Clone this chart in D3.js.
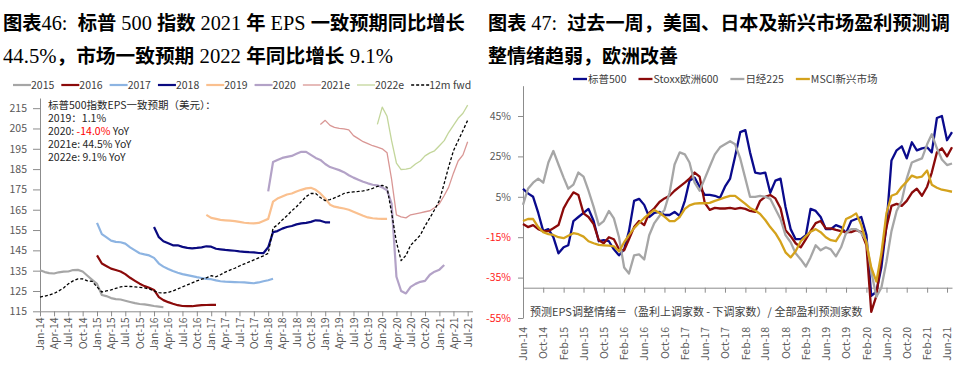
<!DOCTYPE html>
<html>
<head>
<meta charset="utf-8">
<script src="https://cdn.jsdelivr.net/npm/d3@7"></script>
<style>
  body { margin: 0; background: #fff; }
  svg text { font-family: "Noto Sans CJK SC", "Noto Sans", sans-serif; white-space: pre; }
</style>
</head>
<body>
<svg id="chart" width="967" height="376"></svg>
<script>
// ---------- left chart: S&P 500 EPS consensus (USD), monthly ----------
const leftNames = ["2015", "2016", "2017", "2018", "2019", "2020", "2021e", "2022e", "12m fwd"];
const leftStarts = ["2014-01", "2015-01", "2015-01", "2016-01", "2016-12", "2018-01", "2018-12", "2019-12", "2014-01"];
const eps2015 = [135.2,134.3,133.8,133.6,134.2,134.5,134.6,135.3,135.4,134.6,132.5,130.5,
  128.5,123,122.5,121.5,121,120.8,120.2,119.6,119,118.6,118.4,118,117.6,117.3,117.0];
const eps2016 = [142.5,138.5,137.3,136,135.3,134.6,133.3,131.5,130,128.6,127.4,126.6,
  125.5,122,120.5,119.5,118.7,118,117.6,117.5,117.5,117.8,118,118.1,118.2,118.2];
const eps2017 = [158.5,153,151.5,149.8,149.2,149,148.3,146.5,145,143.6,143,142.5,
  141.3,138.5,137,135.8,134.8,134,133.3,132.8,132.3,131.8,131.4,131,
  130.8,130.2,129.8,129.6,129.5,129.4,129.3,129.2,129,128.8,129.2,129.8,130.3,131];
const eps2018 = [156.5,151.5,149.5,148.5,147.5,147.5,146.7,146.2,146,146.2,146.5,147,
  146.8,145.8,145.5,145.2,145,144.8,144.5,144.3,144.1,144,143.7,143.6,
  146.5,154,154.5,155.7,156.5,157,157.8,158.3,158.5,159,159.8,159.6,158.8,158.8];
const eps2019 = [162.5,
  161,160.5,160,159.8,159.6,159.4,159,158.6,158.4,158.3,158.5,159.5,
  160.5,169,170.5,171.5,172.5,173,174,174.8,175.5,175.8,174.8,173,
  170.5,167.5,166.5,166,165.6,165,164,163,162,161.2,160.8,160.6,160.5,160.5];
const eps2020 = [174,188.5,189.5,190.5,191,191.5,192.5,193.5,193.5,192,190.5,189.5,
  187.5,186,185.3,184.5,183.5,182,180.8,179.8,178.8,178,177.3,177,
  176,174.5,168,132,125,123.8,127,128.5,129.5,130,133,134.5,135.5,137.8];
const eps2021e = [207,
  209,206.5,205.5,205,204.8,204.3,201.5,200,198.5,197.5,196.5,195.8,
  195,193,180,162.5,161.5,161,162.5,163,163.5,164,164.5,166,
  168,172,176,183,189,192,198.5];
const eps2022e = [207,215.5,211,199,188,184.8,185,185.5,187.5,189,191.5,193,194,
  196.5,199,203,206.5,210,212.5,216.5];
const eps12mFwd = [122,122.5,123,123.8,125,126.5,128.5,130,131,131,130,129.7,
  127,124.5,125,125.5,126.3,127,127.3,127.2,127,126.8,126.5,126,
  125,124.2,124,124.3,125,126,127,128,129,130,130.8,131.5,
  132.5,132,133,134.3,135.3,136.2,137.3,138.3,139.3,140.3,141.3,142.3,
  143.5,156,157.5,160,162,164.5,166.5,169,171.5,173,173,171,
  169.5,170,170.8,171.8,173,173.5,173.8,174,174.3,174.8,175.5,176.5,
  177,176,163.5,149,140,142.5,147.5,150,152.5,157,161,165,
  169.5,178,186,194,199,204,209];
const leftValues = [eps2015, eps2016, eps2017, eps2018, eps2019, eps2020, eps2021e, eps2022e, eps12mFwd];
const leftColors = ["#a6a6a6", "#8b0a0a", "#8db4e2", "#0a0a80", "#fac08f", "#b3a2c7", "#d99694", "#c3d69b", "#000"];
const leftWidths = [2.2, 2.2, 2.2, 2.2, 2.2, 2.2, 1.3, 1.3, 1.3];
const leftYTicks = [115, 125, 135, 145, 155, 165, 175, 185, 195, 205, 215];
// each note line is a list of [text, highlighted?] pieces
const noteLines = [
    [["标普500指数EPS一致预期（美元）：", false]],
    [["2019：1.1%", false]],
    [["2020: ", false], ["-14.0%", true], [" YoY", false]],
    [["2021e: 44.5% YoY", false]],
    [["2022e: 9.1% YoY", false]]
];

// ---------- right chart: EPS revision sentiment, monthly from Jun-14 ----------
const rightNames = ["标普500", "Stoxx欧洲600", "日经225", "MSCI新兴市场"];
const rightStart = "2014-06";
const spx = [9,6.7,5,-3,-12,-11,-15,-23,-20,-19, -7,-5,-3,-1,-7,-17,-16.5,-17,-21,-24,
  -21,-12,3,4,1,-5,-3,-2.5,-4,-4, -2.5,-4.5,3,13,14.5,10,6,6,5.5,4.5,
  10,14,25,37,38,27,17,16.5,17,7, 13,14,0,-11,-16,-16,-14,-1,-2,-5,
  -11,-11,-9,-10,-13,-7,-6,-5,-14,-44, -42,-30,-9,23,28,30,24,32,28,29,
  29.5,27,44,45,33,37];
const stoxx = [-8.5,-10,-9,-11,-12,-12,-10.6,-9,-0.7,3.4, 7.2,5.9,-3.2,-5,-8.5,-16.5,-18,-15,-16,-21,
  -21.5,-16,-10,-7,-9,-3,-0.7,2.4,4.2,5.5, 8,10,12,14,17,15,2,-1.5,-0.5,-0.8,
  -0.8,-0.5,-1,-0.5,-1,-2,-2.5,3,5,5.9, 4.2,-0.7,-11.5,-14.5,-18,-20,-16,-12,-8,-7,
  -10.6,-10.6,-11.4,-12,-12.5,-12.5,-11.5,-12.5,-19,-52, -44,-25,-10,0.5,1.5,0.5,3,7,9,5.5,
  10,17,27,29,25,29.5];
const nikkei = [1,9,12,14,12,22,27.7,21,14.5,9, 11,17,15,8,0,-9,-7,-2,-5.7,-15,
  -30,-33,-24,-23.5,-26,-14,-8,-4.5,-1.5,7, 21,27,26,22,12,8,14,20,26,29.5,
  31,32.5,31,24,14,5,5,5.5,5,4, -1,-6,-14,-17.5,-23,-26,-29.5,-25,-19,-21.5,
  -20,-21,-24.5,-20,-13,-11,-11,-13,-17,-32, -44.5,-40,-27,-12,-2,3,14,22,23,24,
  31,36,29,23.5,20.7,21.5];
const msciEm = [-7,-6,-6,-10,-12.5,-13.5,-13.9,-15,-15.5,-14.3, -13,-13.5,-14.7,-17,-18,-18.8,-19,-19.2,-19.5,-22,
  -17.5,-14,-10.5,-8,-5.5,-3.5,-1.5,-3,-4.8,-7, -7,-5,-1,0.8,1.6,1.8,1.8,2,3,3.8,
  4.7,5.5,5.5,3.5,1.5,-0.5,-1.8,-3.5,-6.5,-10, -13,-17.2,-22.5,-25,-22,-17,-14.5,-12.3,-11,-12.5,
  -15,-16.5,-17,-13,-6,-4.8,-3.2,-9,-18,-30, -37,-23,-3,5.5,6.5,10,12.5,15.5,14.5,15,
  18,11,9.5,8.5,8,7.5];
const rightValues = [spx, stoxx, nikkei, msciEm];
const rightColors = ["#0a0a8c", "#8b0a0a", "#a6a6a6", "#d4a21c"];
const rightYTicks = [-55, -35, -15, 5, 25, 45];
const footnote = "预测EPS调整情绪＝（盈利上调家数 - 下调家数）/ 全部盈利预测家数";

// ---------- helpers ----------
const parseMonth = d3.timeParse("%Y-%m");
function monthly(start, values) {
    const s = parseMonth(start);
    return values.map((v, i) => ({ date: d3.timeMonth.offset(s, i), value: v }));
}
const svg = d3.select("#chart");
const fmtMonth = d3.timeFormat("%b-%y");

// title: bold CJK pieces + serif number pieces, laid out side by side, then stretched to the wanted width
function addTitle(x, y, parts, fitWidth) {
    const g = svg.append("g");
    let cx = 0;
    parts.forEach(([txt, kind]) => {
        const t = g.append("text").attr("x", cx).attr("y", 0).attr("fill", "#000")
            .style("font-family", kind === "c" ? '"Noto Sans CJK SC", sans-serif' : '"Liberation Serif", serif')
            .style("font-weight", kind === "c" ? 700 : 400)
            .style("font-size", kind === "c" ? "19px" : "20px")
            .text(txt);
        cx += t.node().getComputedTextLength();
    });
    const k = fitWidth ? fitWidth / cx : 1;
    g.attr("transform", `translate(${x},${y}) scale(${k},1)`);
}

// titles
addTitle(3, 30, [["图表", "c"], ["46:  ", "n"], ["标普", "c"], [" 500 ", "n"], ["指数", "c"], [" 2021 ", "n"],
    ["年", "c"], [" EPS ", "n"], ["一致预期同比增长", "c"]], 462);
addTitle(3, 63, [["44.5%", "n"], ["，市场一致预期", "c"], [" 2022 ", "n"], ["年同比增长", "c"], [" 9.1%", "n"]], 390);
addTitle(488, 30, [["图表", "c"], [" 47:  ", "n"], ["过去一周，美国、日本及新兴市场盈利预测调", "c"]], 462);
addTitle(488, 63, [["整情绪趋弱，欧洲改善", "c"]]);

// ================= LEFT CHART =================
const lx = d3.scaleTime().domain([new Date(2014, 0, 1), new Date(2021, 7, 1)]).range([40, 472.5]);
const ly = d3.scaleLinear().domain([115, 220]).range([311.3, 98]);

const left = svg.append("g").attr("class", "left-chart");

// y axis
const lyAxisG = left.append("g").attr("transform", "translate(40,0)")
    .call(d3.axisLeft(ly).tickValues(leftYTicks).tickSize(7).tickPadding(6).tickSizeOuter(0));
// x axis
const lxAxisG = left.append("g").attr("transform", `translate(0,${ly(115)})`)
    .call(d3.axisBottom(lx)
        .tickValues(d3.timeMonth.range(new Date(2014, 0, 1), new Date(2021, 7, 2), 3))
        .tickFormat(fmtMonth).tickSize(5).tickSizeOuter(0));
lxAxisG.selectAll("text")
    .attr("y", 0).attr("x", -6).attr("dy", "0.35em")
    .attr("transform", "rotate(-90)").style("text-anchor", "end");

[lyAxisG, lxAxisG].forEach(g => {
    g.selectAll("path, line").attr("stroke", "#8c8c8c");
    g.selectAll("text").attr("fill", "#595959").style("font-size", "10.5px").style("font-family", '"Noto Sans CJK SC", sans-serif');
});

// lines
const lline = d3.line().x(d => lx(d.date)).y(d => ly(d.value));
leftValues.forEach((vals, i) => {
    left.append("path")
        .datum(monthly(leftStarts[i], vals))
        .attr("fill", "none")
        .attr("stroke", leftColors[i])
        .attr("stroke-width", leftWidths[i])
        .attr("stroke-linejoin", "round")
        .attr("stroke-dasharray", leftNames[i] === "12m fwd" ? "3,2" : null)
        .attr("d", lline);
});

// note text (compact-metric Latin font first so the stacked lines do not collide)
const note = left.append("g").style("font-size", "10.5px")
    .style("font-family", '"Liberation Sans", "Noto Sans CJK SC", sans-serif');
noteLines.forEach((pieces, i) => {
    let nx = 48;
    pieces.forEach(([s, hi]) => {
        const t = note.append("text").attr("x", nx).attr("y", 108.5 + i * 13.2)
            .attr("fill", hi ? "#ff0000" : "#262626").text(s);
        nx += t.node().getComputedTextLength();
    });
});

// legend
let lgx = 13;
const lLegend = left.append("g").style("font-size", "10.5px");
leftNames.forEach((n, i) => {
    lLegend.append("line")
        .attr("x1", lgx).attr("x2", lgx + 18).attr("y1", 85).attr("y2", 85)
        .attr("stroke", leftColors[i]).attr("stroke-width", leftWidths[i] > 2 ? 2.2 : 1.3)
        .attr("stroke-dasharray", n === "12m fwd" ? "3,2" : null);
    const t = lLegend.append("text").attr("x", lgx + 18).attr("y", 85).attr("dy", "0.35em")
        .attr("fill", "#404040").text(n);
    lgx += 18 + t.node().getComputedTextLength() + 7;
});

// ================= RIGHT CHART =================
const rx = d3.scaleTime().domain([new Date(2014, 5, 1), new Date(2021, 6, 1)]).range([523, 952]);
const ry = d3.scaleLinear().domain([-55, 60]).range([318, 85.7]);

const right = svg.append("g").attr("class", "right-chart");

const ryAxisG = right.append("g").attr("transform", "translate(523,0)")
    .call(d3.axisLeft(ry).tickValues(rightYTicks).tickFormat(d => d + "%").tickSize(5).tickPadding(7).tickSizeOuter(0));
const rTicks = d3.timeMonth.range(new Date(2014, 5, 1), new Date(2021, 6, 2), 4);
const rxAxisG = right.append("g").attr("transform", `translate(0,${ry(-40)})`)
    .call(d3.axisBottom(rx).tickValues(rTicks).tickFormat("").tickSize(5).tickSizeOuter(0));
const rxLabelG = right.append("g").attr("transform", `translate(0,${ry(-55)})`)
    .call(d3.axisBottom(rx).tickValues(rTicks).tickFormat(fmtMonth).tickSize(0));
rxLabelG.select(".domain").remove();
rxLabelG.selectAll("text")
    .attr("y", 0).attr("x", -9).attr("dy", "0.35em")
    .attr("transform", "rotate(-90)").style("text-anchor", "end");

[ryAxisG, rxAxisG, rxLabelG].forEach(g => {
    g.selectAll("path, line").attr("stroke", "#8c8c8c");
    g.selectAll("text").attr("fill", "#595959").style("font-size", "10.5px").style("font-family", '"Noto Sans CJK SC", sans-serif');
});
ryAxisG.selectAll("text").attr("fill", d => d < 0 ? "#ff2020" : "#595959");

const rline = d3.line().x(d => rx(d.date)).y(d => ry(d.value));
rightValues.forEach((vals, i) => {
    right.append("path")
        .datum(monthly(rightStart, vals))
        .attr("fill", "none")
        .attr("stroke", rightColors[i])
        .attr("stroke-width", 2.3)
        .attr("stroke-linejoin", "round")
        .attr("d", rline);
});

right.append("text").attr("x", 530).attr("y", 312).attr("dy", "0.35em")
    .style("font-size", "11px").attr("fill", "#404040").text(footnote);

// legend
let rgx = 573;
const rLegend = right.append("g").style("font-size", "10.5px");
rightNames.forEach((n, i) => {
    rLegend.append("line")
        .attr("x1", rgx).attr("x2", rgx + 14).attr("y1", 79).attr("y2", 79)
        .attr("stroke", rightColors[i]).attr("stroke-width", 2.3);
    const t = rLegend.append("text").attr("x", rgx + 15).attr("y", 79).attr("dy", "0.35em")
        .attr("fill", "#404040").text(n);
    rgx += 15 + t.node().getComputedTextLength() + 12;
});
</script>
</body>
</html>
